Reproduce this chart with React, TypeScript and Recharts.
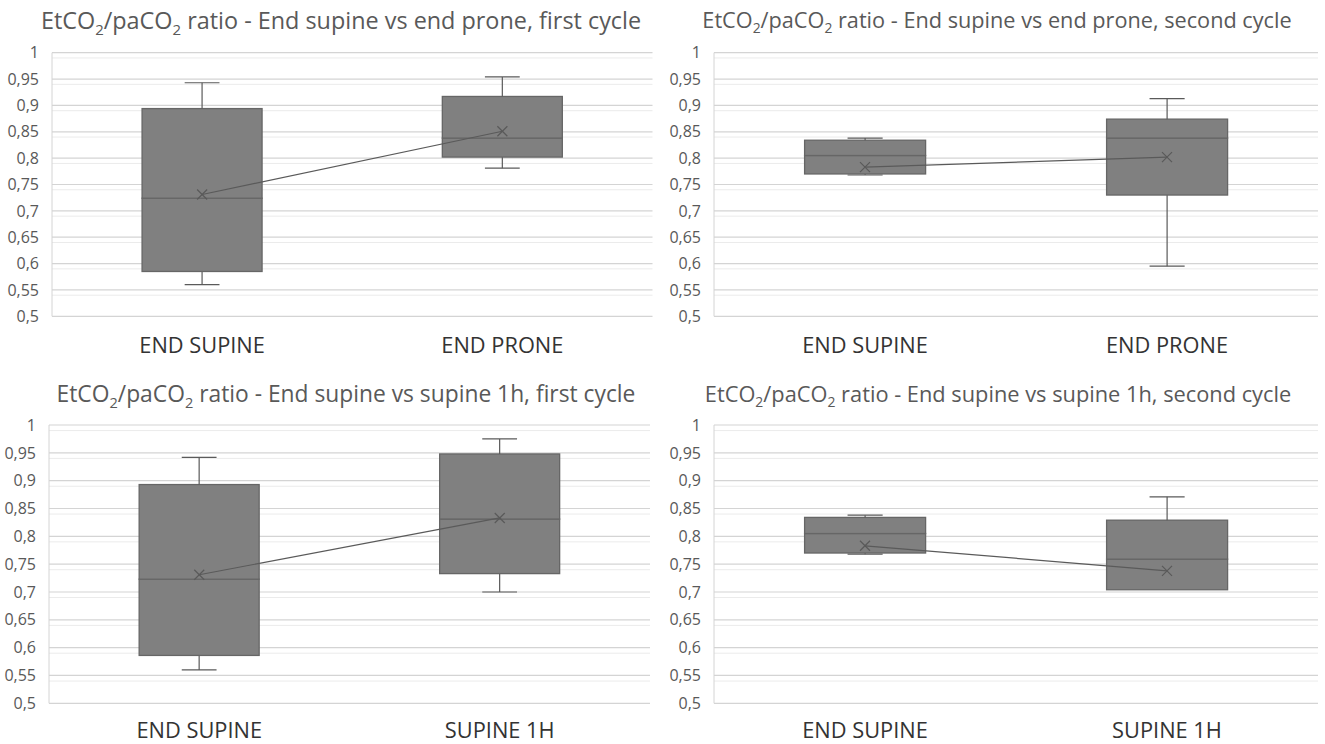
import React from "react";
import {
  ComposedChart, Bar, Line, XAxis, YAxis, CartesianGrid,
} from "recharts";

// tick labels / categories
const yTicks = [0.5, 0.55, 0.6, 0.65, 0.7, 0.75, 0.8, 0.85, 0.9, 0.95, 1];
const catsProne = ["END SUPINE", "END PRONE"];
const catsSupine1h = ["END SUPINE", "SUPINE 1H"];

// box plot values: [first box, second box]
const c1ProneMin = [0.56, 0.781];
const c1ProneQ1 = [0.585, 0.802];
const c1ProneMed = [0.724, 0.838];
const c1ProneQ3 = [0.894, 0.917];
const c1ProneMax = [0.943, 0.954];
const c1ProneMean = [0.731, 0.851];

const c2ProneMin = [0.768, 0.595];
const c2ProneQ1 = [0.77, 0.73];
const c2ProneMed = [0.805, 0.838];
const c2ProneQ3 = [0.834, 0.874];
const c2ProneMax = [0.838, 0.913];
const c2ProneMean = [0.783, 0.802];

const c1SupMin = [0.56, 0.7];
const c1SupQ1 = [0.586, 0.733];
const c1SupMed = [0.723, 0.831];
const c1SupQ3 = [0.893, 0.948];
const c1SupMax = [0.942, 0.975];
const c1SupMean = [0.731, 0.833];

const c2SupMin = [0.768, 0.704];
const c2SupQ1 = [0.77, 0.704];
const c2SupMed = [0.805, 0.759];
const c2SupQ3 = [0.834, 0.829];
const c2SupMax = [0.838, 0.871];
const c2SupMean = [0.783, 0.738];

// minor gridlines every 0.01
const minorTicks: number[] = [];
for (let i = 50; i <= 100; i++) if (i % 5 !== 0) minorTicks.push(i / 100);

const FONT = "'Open Sans', 'Noto Sans', sans-serif";
const TEXT = "#595959";
const BOX_FILL = "#808080";
const BOX_LINE = "#666666";
const WHISKER = "#5a5a5a";

// stacked segments: base (invisible) -> low whisker -> lower box -> upper box -> high whisker
function buildRows(cats: string[], mn: number[], q1: number[], med: number[], q3: number[], mx: number[], mean: number[]) {
  return cats.map((c, i) => ({
    cat: c,
    base: mn[i],
    lowW: q1[i] - mn[i],
    boxLo: med[i] - q1[i],
    boxHi: q3[i] - med[i],
    highW: mx[i] - q3[i],
    mean: mean[i],
  }));
}

const WhiskerShape = (top: boolean) => (props: any) => {
  const { x, y, width, height } = props;
  if (!height || Math.abs(height) < 0.5) return <g />;
  const cx = x + width / 2;
  const cap = width * 0.29;
  const capY = top ? y : y + height;
  return (
    <g>
      <line x1={cx} x2={cx} y1={y} y2={y + height} stroke={WHISKER} strokeWidth={1.2} />
      <line x1={cx - cap / 2} x2={cx + cap / 2} y1={capY} y2={capY} stroke={WHISKER} strokeWidth={1.2} />
    </g>
  );
};

const BoxShape = (props: any) => {
  const { x, y, width, height } = props;
  return <rect x={x} y={y} width={width} height={Math.max(height, 0)} fill={BOX_FILL} stroke={BOX_LINE} strokeWidth={1.3} />;
};

const MeanDot = (props: any) => {
  const { cx, cy } = props;
  const s = 5;
  return (
    <g>
      <line x1={cx - s} x2={cx + s} y1={cy - s} y2={cy + s} stroke={WHISKER} strokeWidth={1.2} />
      <line x1={cx - s} x2={cx + s} y1={cy + s} y2={cy - s} stroke={WHISKER} strokeWidth={1.2} />
    </g>
  );
};

function Title({ x, y, size, rest }: { x: number; y: number; size: number; rest: string }) {
  const sub = { fontSize: size * 0.64, lineHeight: 0 };
  return (
    <div
      style={{
        position: "absolute", left: x, top: y, transform: "translateX(-50%)",
        whiteSpace: "nowrap", fontFamily: FONT, fontSize: size, lineHeight: "32px", color: TEXT,
      }}
    >
      EtCO<sub style={sub}>2</sub>/paCO<sub style={sub}>2</sub> {rest}
    </div>
  );
}

function BoxPanel({
  rows, width, height, margin, xBottom, xHeight,
}: { rows: any[]; width: number; height: number; margin: any; xBottom: number; xHeight: number }) {
  return (
    <ComposedChart width={width} height={height} data={rows} margin={margin} barCategoryGap="30%">
      <CartesianGrid vertical={false} horizontalValues={minorTicks} stroke="#ebebeb" strokeWidth={1} />
      <CartesianGrid vertical={false} horizontalValues={yTicks} stroke="#d4d4d4" strokeWidth={1.2} />
      <XAxis
        dataKey="cat"
        axisLine={false}
        tickLine={false}
        tickSize={0}
        tickMargin={xBottom}
        height={xHeight}
        tick={{ fill: "#333", fontSize: 21.8, fontFamily: FONT }}
      />
      <YAxis
        domain={[0.5, 1]}
        ticks={yTicks}
        allowDataOverflow
        width={45}
        axisLine={{ stroke: "#d4d4d4" }}
        tickLine={false}
        tickMargin={7}
        tickFormatter={(v: number) => String(v).replace(".", ",")}
        tick={{ fill: TEXT, fontSize: 16, fontFamily: FONT }}
      />
      <Bar dataKey="base" stackId="b" fill="none" isAnimationActive={false} />
      <Bar dataKey="lowW" stackId="b" shape={WhiskerShape(false)} isAnimationActive={false} />
      <Bar dataKey="boxLo" stackId="b" shape={BoxShape} isAnimationActive={false} />
      <Bar dataKey="boxHi" stackId="b" shape={BoxShape} isAnimationActive={false} />
      <Bar dataKey="highW" stackId="b" shape={WhiskerShape(true)} isAnimationActive={false} />
      <Line
        dataKey="mean"
        stroke={WHISKER}
        strokeWidth={1.2}
        dot={<MeanDot />}
        activeDot={false}
        isAnimationActive={false}
      />
    </ComposedChart>
  );
}

export default function App() {
  const tl = buildRows(catsProne, c1ProneMin, c1ProneQ1, c1ProneMed, c1ProneQ3, c1ProneMax, c1ProneMean);
  const tr = buildRows(catsProne, c2ProneMin, c2ProneQ1, c2ProneMed, c2ProneQ3, c2ProneMax, c2ProneMean);
  const bl = buildRows(catsSupine1h, c1SupMin, c1SupQ1, c1SupMed, c1SupQ3, c1SupMax, c1SupMean);
  const br = buildRows(catsSupine1h, c2SupMin, c2SupQ1, c2SupMed, c2SupQ3, c2SupMax, c2SupMean);

  return (
    <div style={{ position: "absolute", left: 0, top: 0, width: 1325, height: 744, background: "#fff", overflow: "hidden" }}>
      <Title x={341} y={4} size={23.4} rest="ratio - End supine vs end prone, first cycle" />
      <Title x={997} y={4} size={21.7} rest="ratio - End supine vs end prone, second cycle" />
      <Title x={346} y={378} size={22.8} rest="ratio - End supine vs supine 1h, first cycle" />
      <Title x={998} y={378} size={21.8} rest="ratio - End supine vs supine 1h, second cycle" />

      <div style={{ position: "absolute", left: 0, top: 40 }}>
        <BoxPanel rows={tl} width={662} height={330} margin={{ top: 12.7, right: 9.5, left: 7, bottom: 3.7 }} xBottom={21} xHeight={50} />
      </div>
      <div style={{ position: "absolute", left: 662, top: 40 }}>
        <BoxPanel rows={tr} width={663} height={330} margin={{ top: 12.7, right: 7, left: 7, bottom: 3.7 }} xBottom={21} xHeight={50} />
      </div>
      <div style={{ position: "absolute", left: 0, top: 410 }}>
        <BoxPanel rows={bl} width={662} height={334} margin={{ top: 15, right: 12, left: 4, bottom: 0.7 }} xBottom={19} xHeight={40} />
      </div>
      <div style={{ position: "absolute", left: 662, top: 410 }}>
        <BoxPanel rows={br} width={663} height={334} margin={{ top: 15, right: 7, left: 7, bottom: 0.7 }} xBottom={19} xHeight={40} />
      </div>
    </div>
  );
}
